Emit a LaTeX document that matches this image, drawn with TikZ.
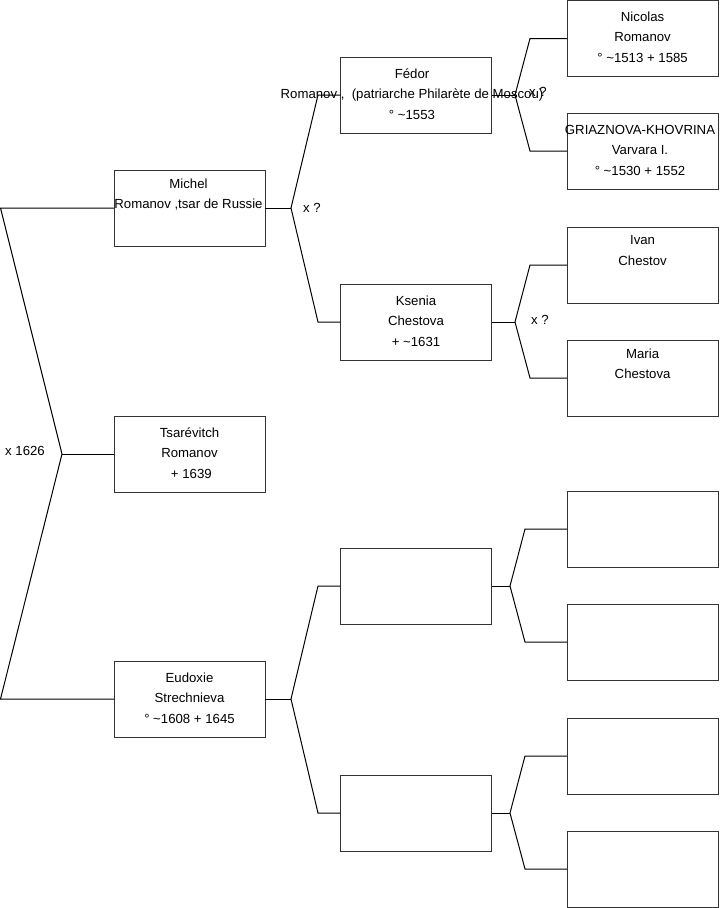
\documentclass[tikz,border=0pt]{standalone}
\usepackage{fontspec}
\setmainfont{Liberation Sans}
\begin{document}
\begin{tikzpicture}[x=0.75pt,y=-0.75pt,
  box/.style={draw=black!80,line width=0.75pt,minimum width=113.25pt,minimum height=57pt,inner sep=0pt,outer sep=0pt},
  txt/.style={font=\fontsize{9.9}{15.4}\selectfont,align=center,inner sep=0pt},
  conn/.style={draw=black,line width=0.75pt},
  lbl/.style={font=\fontsize{9.9}{12}\selectfont,inner sep=0pt}]
\useasboundingbox (0,0) rectangle (719,908);
% level 1
\node[box] (m) at (189.5,208) {};
\node[box] (t) at (189.5,454) {};
\node[box] (e) at (189.5,699) {};
% level 2
\node[box] (f) at (416,95) {};
\node[box] (k) at (416,322) {};
\node[box] (b1) at (416,586) {};
\node[box] (b2) at (416,813) {};
% level 3
\node[box] (n) at (642.6,38.5) {};
\node[box] (g) at (642.6,151) {};
\node[box] (i) at (642.6,265) {};
\node[box] (ma) at (642.6,378) {};
\node[box] (c1) at (642.6,529) {};
\node[box] (c2) at (642.6,642) {};
\node[box] (c3) at (642.6,756) {};
\node[box] (c4) at (642.6,869) {};
% fork points
\coordinate (r) at (62,454); \coordinate (ra) at (0.5,208); \coordinate (rb) at (0.5,699);
\coordinate (mf) at (291,208); \coordinate (mfa) at (318,95); \coordinate (mfb) at (318,322);
\coordinate (ef) at (291,699); \coordinate (efa) at (318,586); \coordinate (efb) at (318,813);
\coordinate (ff) at (515,95); \coordinate (ffa) at (530,38.5); \coordinate (ffb) at (530,151);
\coordinate (kf) at (515,322); \coordinate (kfa) at (530,265); \coordinate (kfb) at (530,378);
\coordinate (bf1) at (510,586); \coordinate (bf1a) at (525,529); \coordinate (bf1b) at (525,642);
\coordinate (bf2) at (510,813); \coordinate (bf2a) at (525,756); \coordinate (bf2b) at (525,869);
% connectors
\draw[conn] (m.west) -- (ra) -- (r) -- (rb) -- (e.west);
\draw[conn] (r) -- (t.west);
\draw[conn] (m.east) -- (mf);
\draw[conn] (f.west) -- (mfa) -- (mf) -- (mfb) -- (k.west);
\draw[conn] (e.east) -- (ef);
\draw[conn] (b1.west) -- (efa) -- (ef) -- (efb) -- (b2.west);
\draw[conn] (f.east) -- (ff);
\draw[conn] (n.west) -- (ffa) -- (ff) -- (ffb) -- (g.west);
\draw[conn] (k.east) -- (kf);
\draw[conn] (i.west) -- (kfa) -- (kf) -- (kfb) -- (ma.west);
\draw[conn] (b1.east) -- (bf1);
\draw[conn] (c1.west) -- (bf1a) -- (bf1) -- (bf1b) -- (c2.west);
\draw[conn] (b2.east) -- (bf2);
\draw[conn] (c3.west) -- (bf2a) -- (bf2) -- (bf2b) -- (c4.west);
% texts
\node[txt] (mt) at (188.5,207) {Michel\\Romanov ,tsar de Russie\\\strut};
\node[txt] (tt) at (189.5,453) {Tsarévitch\\Romanov\\~+ 1639};
\node[txt] (et) at (189.5,698) {Eudoxie\\Strechnieva\\° \textasciitilde1608 + 1645};
\node[txt] (ft) at (412,94) {Fédor\\Romanov ,~ (patriarche Philarète de Moscou)\\° \textasciitilde1553};
\node[txt] (kt) at (416,321) {Ksenia\\Chestova\\+ \textasciitilde1631};
\node[txt] (nt) at (642.6,37) {Nicolas\\Romanov\\° \textasciitilde1513 + 1585};
\node[txt] (gt) at (640,150) {GRIAZNOVA-KHOVRINA\\Varvara I.\\° \textasciitilde1530 + 1552};
\node[txt] (it) at (642.6,264) {Ivan\\Chestov\\\strut};
\node[txt] (mat) at (642.6,377) {Maria\\Chestova\\\strut};
% marriage labels
\node[lbl] (x0) at (25,451) {x 1626};
\node[lbl] (x1) at (312,208) {x ?};
\node[lbl] (x2) at (538,92) {x ?};
\node[lbl] (x3) at (540,320) {x ?};
\end{tikzpicture}
\end{document}
